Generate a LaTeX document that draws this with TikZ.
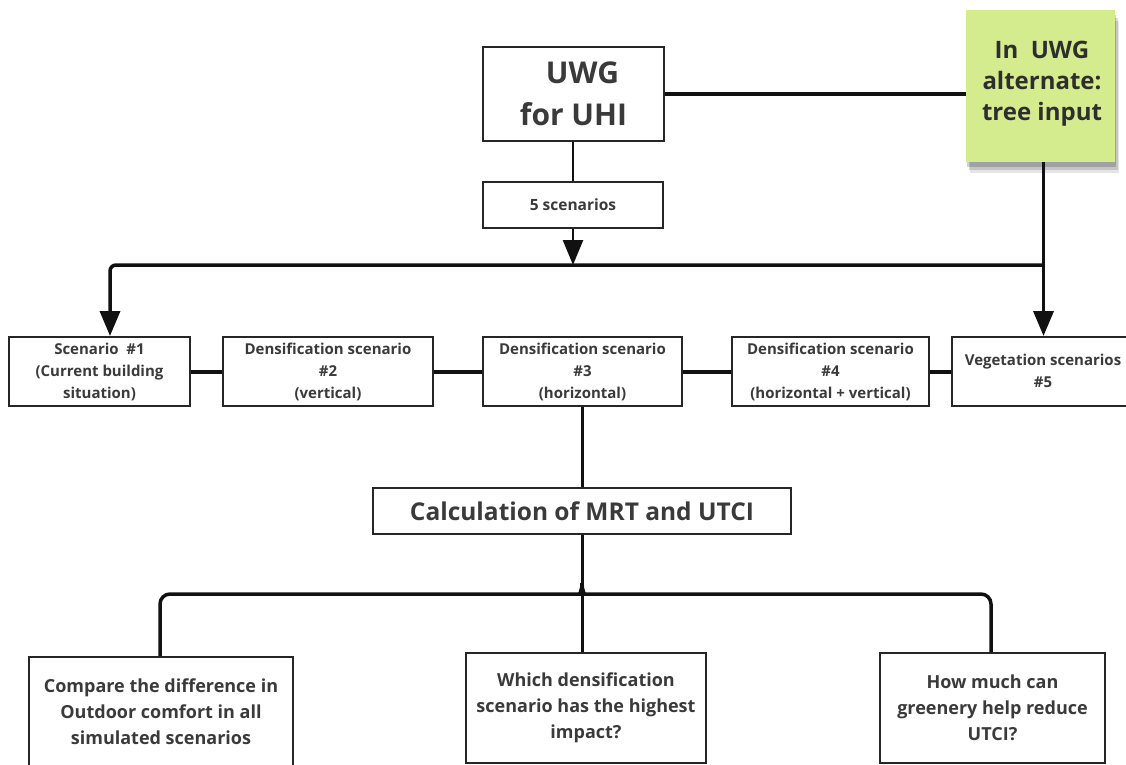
\documentclass[tikz,border=0pt]{standalone}
\usepackage{fontspec}
\setmainfont{Open Sans}
\usetikzlibrary{arrows.meta,shadows}
\definecolor{boxc}{HTML}{262626}
\definecolor{txt}{HTML}{3A3A3A}
\definecolor{linec}{HTML}{111111}
\definecolor{note}{HTML}{D5EC8E}
\tikzset{
  box/.style={draw=boxc, line width=2pt, fill=white, inner sep=0pt, align=center, text=txt, font=\bfseries},
  rowtxt/.style={font=\bfseries\fontsize{15}{22}\selectfont},
  qtxt/.style={font=\bfseries\fontsize{18}{26}\selectfont},
  conn/.style={draw=linec, line width=3.5pt},
  thin/.style={draw=linec, line width=2.5pt},
  tip/.style={-{Triangle[width=20pt,length=25pt]}},
  softshadow/.style={preaction={fill=black, opacity=0.10, transform canvas={xshift=4pt, yshift=-11pt}},
                     preaction={fill=black, opacity=0.14, transform canvas={xshift=3pt, yshift=-8pt}},
                     preaction={fill=black, opacity=0.18, transform canvas={xshift=1pt, yshift=-5pt}}},
}
\begin{document}
\begin{tikzpicture}[x=1pt,y=-1pt]
\useasboundingbox (0,0) rectangle (1126,764);
\clip (0,0) rectangle (1126,764);

% top
\node[box, minimum width=181pt, minimum height=94pt, font=\bfseries\fontsize{30}{42}\selectfont] (uwg) at (573.5,94) {\hspace*{18pt}UWG\\for UHI};
\node[fill=note, inner sep=0pt, minimum width=149pt, minimum height=152pt, softshadow] (green) at (1040.5,86) {};
\node[align=center, text=black!82, font=\bfseries\fontsize{24}{31}\selectfont] (greentxt) at (1042,84) {In~~UWG\\alternate:\\tree input};
\node[box, minimum width=180pt, minimum height=46pt, font=\bfseries\fontsize{15.5}{18}\selectfont] (five) at (573,205) {5 scenarios};

% scenario row
\node[box, rowtxt, minimum width=181pt, minimum height=69pt] (s1) at (99.5,371.5) {Scenario~~\#1\\(Current building\\situation)};
\node[box, rowtxt, minimum width=210pt, minimum height=69pt] (s2) at (328,371.5) {Densification scenario\\\#2\\(vertical)};
\node[box, rowtxt, minimum width=199pt, minimum height=69pt] (s3) at (582.5,371.5) {Densification scenario\\\#3\\(horizontal)};
\node[box, rowtxt, minimum width=197pt, minimum height=69pt] (s4) at (830.5,371.5) {Densification scenario\\\#4\\(horizontal + vertical)};
\node[box, minimum width=183pt, minimum height=69pt, draw=none] (s5) at (1043.5,371.5) {};
\draw[boxc, line width=2pt] (1140,337) -- (952,337) -- (952,406) -- (1140,406);
\node[rowtxt, align=center, text=txt] (s5txt) at (1043,370.5) {Vegetation scenarios\\\#5};

% calculation
\node[box, minimum width=418pt, minimum height=46pt, font=\bfseries\fontsize{24.5}{28}\selectfont] (calc) at (582,511) {Calculation of MRT and UTCI};

% questions
\node[box, qtxt, minimum width=264pt, minimum height=110pt] (q1) at (161,712) {Compare the difference in\\Outdoor comfort in all\\simulated scenarios};
\node[box, qtxt, minimum width=240pt, minimum height=110pt] (q2) at (586,708) {Which densification\\scenario has the highest\\impact?};
\node[box, qtxt, minimum width=225pt, minimum height=110pt] (q3) at (992.5,708) {How much can\\greenery help reduce\\UTCI?};

% connectors top
\coordinate (busL) at (110,265);
\coordinate (busR) at (1043,265);
\coordinate (brace) at (582,583);
\draw[conn] (uwg.east) -- (uwg.east -| green.west);
\draw[thin] (uwg.south -| five.north) -- (five.north);
\draw[thin, tip] (five.south) -- (five.south |- busL);
\draw[conn, tip] (s5.north |- green.south) -- (s5.north);
\draw[conn, tip, rounded corners=6pt] (busR) -- (busL) -- (busL |- s1.north);

% row links
\draw[conn, line width=4pt] (s1.east) -- (s2.west);
\draw[conn, line width=4pt] (s2.east) -- (s3.west);
\draw[conn, line width=4pt] (s3.east) -- (s4.west);
\draw[conn, line width=4pt] (s4.east) -- (s5.west);

% lower
\draw[thin, line width=3pt] (s3.south -| calc.north) -- (calc.north);
\draw[thin, line width=3pt] (calc.south) -- (calc.south |- q2.north);
\draw[conn, rounded corners=10pt] (q1.north -| 160,0) -- (160,594) -- (570,594) [sharp corners] .. controls (579,594) and (582,591) .. (brace);
\draw[conn, rounded corners=10pt] (q3.north -| 991,0) -- (991,594) -- (594,594) [sharp corners] .. controls (585,594) and (582,591) .. (brace);
\end{tikzpicture}
\end{document}
